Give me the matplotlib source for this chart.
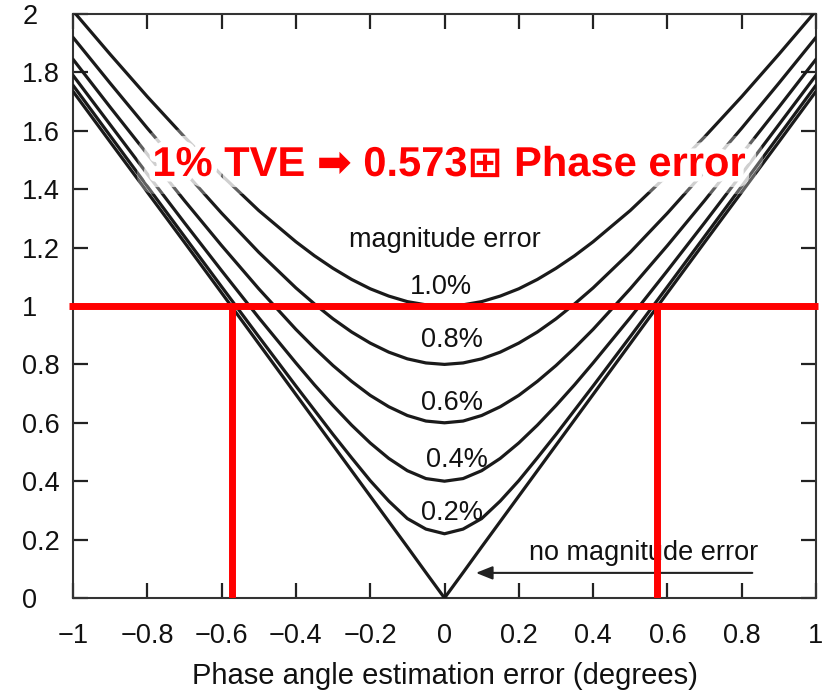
import matplotlib
matplotlib.use("Agg")
import matplotlib.pyplot as plt
import matplotlib.patheffects as pe
from matplotlib import font_manager as fm

# ---- data ----
phase_err = [-1.0, -0.9, -0.8, -0.7, -0.6, -0.5, -0.4, -0.35, -0.3, -0.25, -0.2, -0.15, -0.1, -0.05,
             0.0, 0.05, 0.1, 0.15, 0.2, 0.25, 0.3, 0.35, 0.4, 0.5, 0.6, 0.7, 0.8, 0.9, 1.0]

tve_mag_1_0 = [2.011, 1.862, 1.717, 1.579, 1.448, 1.327, 1.220, 1.172, 1.129, 1.091, 1.059, 1.034, 1.015, 1.004,
               1.000, 1.004, 1.015, 1.034, 1.059, 1.091, 1.129, 1.172, 1.220, 1.327, 1.448, 1.579, 1.717, 1.862, 2.011]
tve_mag_0_8 = [1.920, 1.763, 1.609, 1.460, 1.318, 1.184, 1.062, 1.007, 0.956, 0.911, 0.873, 0.842, 0.819, 0.805,
               0.800, 0.805, 0.819, 0.842, 0.873, 0.911, 0.956, 1.007, 1.062, 1.184, 1.318, 1.460, 1.609, 1.763, 1.920]
tve_mag_0_6 = [1.845, 1.681, 1.520, 1.361, 1.207, 1.059, 0.920, 0.856, 0.796, 0.742, 0.694, 0.655, 0.625, 0.606,
               0.600, 0.606, 0.625, 0.655, 0.694, 0.742, 0.796, 0.856, 0.920, 1.059, 1.207, 1.361, 1.520, 1.681, 1.845]
tve_mag_0_4 = [1.790, 1.621, 1.452, 1.285, 1.121, 0.960, 0.805, 0.730, 0.659, 0.592, 0.531, 0.478, 0.436, 0.409,
               0.400, 0.409, 0.436, 0.478, 0.531, 0.592, 0.659, 0.730, 0.805, 0.960, 1.121, 1.285, 1.452, 1.621, 1.790]
tve_mag_0_2 = [1.756, 1.583, 1.410, 1.238, 1.066, 0.895, 0.726, 0.643, 0.560, 0.480, 0.402, 0.332, 0.272, 0.236,
               0.220, 0.236, 0.272, 0.332, 0.402, 0.480, 0.560, 0.643, 0.726, 0.895, 1.066, 1.238, 1.410, 1.583, 1.756]
tve_mag_0_0 = [1.735, 1.562, 1.390, 1.218, 1.045, 0.871, 0.697, 0.610, 0.523, 0.436, 0.349, 0.262, 0.175, 0.087,
               0.000, 0.087, 0.175, 0.262, 0.349, 0.436, 0.523, 0.610, 0.697, 0.871, 1.045, 1.218, 1.390, 1.562, 1.735]

curves = [tve_mag_1_0, tve_mag_0_8, tve_mag_0_6, tve_mag_0_4, tve_mag_0_2, tve_mag_0_0]
curve_labels = ["1.0%", "0.8%", "0.6%", "0.4%", "0.2%"]
curve_label_x = [-0.01, 0.02, 0.02, 0.034, 0.02]
curve_label_y = [1.065, 0.884, 0.668, 0.473, 0.29]

x_ticks = [-1, -0.8, -0.6, -0.4, -0.2, 0, 0.2, 0.4, 0.6, 0.8, 1]
x_ticklabels = ["\u22121", "\u22120.8", "\u22120.6", "\u22120.4", "\u22120.2", "0", "0.2", "0.4", "0.6", "0.8", "1"]
y_ticks = [0, 0.2, 0.4, 0.6, 0.8, 1, 1.2, 1.4, 1.6, 1.8, 2]
y_ticklabels = ["0", "0.2", "0.4", "0.6", "0.8", "1", "1.2", "1.4", "1.6", "1.8", "2"]

tve_limit = 1.0
phase_limit = 0.573

# ---- fonts ----
names = {f.name for f in fm.fontManager.ttflist}
base_font = "Liberation Sans" if "Liberation Sans" in names else "DejaVu Sans"
narrow_font = "Liberation Sans Narrow" if "Liberation Sans Narrow" in names else base_font
plt.rcParams["font.family"] = [base_font, "DejaVu Sans"]

fig = plt.figure(figsize=(8.35, 6.92), dpi=100)
ax = fig.add_axes([73 / 835, 1 - 598 / 692, (816 - 73) / 835, (598 - 14) / 692])

line_color = "#1a1a1a"
for c in curves:
    ax.plot(phase_err, c, color=line_color, lw=2.3, solid_capstyle="round", zorder=3)

FS = 19.5
ax.set_xlim(-1, 1)
ax.set_ylim(0, 2)
ax.set_xticks(x_ticks)
ax.set_xticklabels(x_ticklabels)
ax.set_yticks(y_ticks)
ax.set_yticklabels(y_ticklabels)
ax.tick_params(axis="both", direction="in", length=11, width=1.6, color="#222222",
               labelsize=FS, labelcolor="#111111", top=True, right=True)
ax.tick_params(axis="x", pad=18)
ax.tick_params(axis="y", pad=36.5)
for lab in ax.get_yticklabels():
    lab.set_horizontalalignment("left")
for s in ax.spines.values():
    s.set_color("#333333")
    s.set_linewidth(1.5)

ax.set_xlabel("Phase angle estimation error (degrees)", fontsize=21, color="#111111", labelpad=9)

# curve labels
for lab, lx, ly in zip(curve_labels, curve_label_x, curve_label_y):
    ax.text(lx, ly, lab, fontsize=FS, ha="center", va="center", color="#111111", zorder=4)
ax.text(0.0, 1.226, "magnitude error", fontsize=FS, ha="center", va="center", color="#111111", zorder=4)

# no magnitude error annotation
ax.annotate("", xy=(0.077, 0.086), xytext=(0.836, 0.086),
            arrowprops=dict(arrowstyle="-|>,head_length=1.0,head_width=0.4", color="#222222", lw=1.5),
            zorder=4)
ax.text(0.535, 0.154, "no magnitude error", fontsize=FS, ha="center", va="center", color="#111111", zorder=4)

# red limit lines
red = "#ff0000"
ax.plot([-1.01, 1.005], [tve_limit, tve_limit], color=red, lw=5, clip_on=False, zorder=5, solid_capstyle="butt")
ax.plot([-phase_limit, -phase_limit], [0, tve_limit], color=red, lw=5, zorder=5, solid_capstyle="butt")
ax.plot([phase_limit, phase_limit], [0, tve_limit], color=red, lw=5, zorder=5, solid_capstyle="butt")

# red headline with white glow
glow = [pe.withStroke(linewidth=26, foreground=(1, 1, 1, 0.3)),
        pe.withStroke(linewidth=16, foreground=(1, 1, 1, 0.7)),
        pe.withStroke(linewidth=8, foreground="white")]
ax.text(0.012, 1.483, "1% TVE \u27a1 0.573\u229e Phase error", fontsize=30, fontweight="bold",
        family=[narrow_font, "DejaVu Sans"], color=red, ha="center", va="center",
        path_effects=glow, zorder=6)

fig.savefig("out.png", dpi=100)
